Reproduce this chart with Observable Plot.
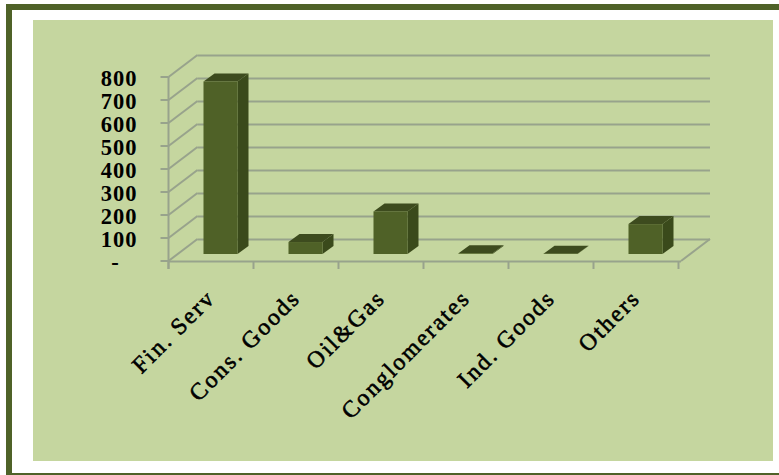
<!DOCTYPE html>
<html>
<head>
<meta charset="utf-8">
<script src="https://cdn.jsdelivr.net/npm/d3@7"></script>
<script src="https://cdn.jsdelivr.net/npm/@observablehq/plot@0.6"></script>
<style>
  html, body { margin: 0; padding: 0; background: #fff; }
  #frame { position: relative; width: 779px; height: 475px; overflow: hidden; background: #fff; }
  .edge { position: absolute; background: #4f6228; }
  #panel { position: absolute; left: 33px; top: 20px; width: 740px; height: 441px; background: #c5d69f; }
  #chart { position: absolute; left: 0; top: 0; }
  #chart svg { background: transparent; display: block; }
</style>
</head>
<body>
<div id="frame">
  <div class="edge" style="left:6px;top:4px;width:773px;height:6px"></div>
  <div class="edge" style="left:6px;top:4px;width:6px;height:471px"></div>
  <div class="edge" style="left:6px;top:473px;width:773px;height:2px"></div>
  <div id="panel"></div>
  <div id="chart"></div>
</div>
<script>
// Holdings by sector
const sectors = ["Fin. Serv", "Cons. Goods", "Oil&Gas", "Conglomerates", "Ind. Goods", "Others"];
const amounts = [750, 52, 185, 3, 1, 130];
const yTicks = [0, 100, 200, 300, 400, 500, 600, 700, 800];

const rows = sectors.map((sector, i) => ({sector, amount: amounts[i]}));

// Projected depth of the chart box and of each column, in pixels
const wall = {dx: 29, dy: -22};
const depth = {dx: 11, dy: -8};
const seat = {dx: 8.5, dy: -7};

const gridColor = "#98a38c";
const gridWidth = 2;
const fontFamily = "'Liberation Serif', serif";

function svgNode(tag, attrs) {
  const node = document.createElementNS("http://www.w3.org/2000/svg", tag);
  for (const k in attrs) node.setAttribute(k, attrs[k]);
  return node;
}

// Render hook that opens up the tracking of a text mark
const tracked = (spacing) => (index, scales, values, dimensions, context, next) => {
  const g = next(index, scales, values, dimensions, context);
  g.style.letterSpacing = spacing;
  return g;
};

// Side wall and floor lines of the box, running from the front plane to the back
function boxWalls(index, {x, y}) {
  const g = svgNode("g", {stroke: gridColor, "stroke-width": gridWidth, fill: "none"});
  const left = x.range()[0];
  const right = x.range()[1];
  for (const t of yTicks) {
    g.appendChild(svgNode("line", {x1: left, y1: y(t), x2: left + wall.dx, y2: y(t) + wall.dy}));
  }
  g.appendChild(svgNode("line", {x1: right, y1: y(0), x2: right + wall.dx, y2: y(0) + wall.dy}));
  return g;
}

// Front axis lines and their tick marks
function frontAxes(index, {x, y}) {
  const g = svgNode("g", {stroke: gridColor, "stroke-width": gridWidth});
  const left = x.range()[0];
  g.appendChild(svgNode("line", {x1: left, x2: left, y1: y(800), y2: y(0) + 8}));
  for (const t of yTicks) {
    g.appendChild(svgNode("line", {x1: left - 8, x2: left, y1: y(t), y2: y(t)}));
  }
  for (let i = 0; i <= sectors.length; ++i) {
    const e = left + i * x.step();
    g.appendChild(svgNode("line", {x1: e, x2: e, y1: y(0), y2: y(0) + 8}));
  }
  return g;
}

// Right side and top faces of each column
function columnFaces(index, {x, y}) {
  const g = svgNode("g", {});
  const w = x.bandwidth();
  for (const {sector, amount} of rows) {
    const x0 = x(sector) + seat.dx;
    const x1 = x0 + w;
    const yTop = y(amount) + seat.dy;
    const yBase = y(0) + seat.dy;
    g.appendChild(svgNode("polygon", {
      fill: "#3a4a1b",
      points: `${x1},${yBase} ${x1 + depth.dx},${yBase + depth.dy} ${x1 + depth.dx},${yTop + depth.dy} ${x1},${yTop}`
    }));
    g.appendChild(svgNode("polygon", {
      fill: "#3d4b1e",
      points: `${x0},${yTop} ${x1},${yTop} ${x1 + depth.dx},${yTop + depth.dy} ${x0 + depth.dx},${yTop + depth.dy}`
    }));
  }
  return g;
}

const plot = Plot.plot({
  width: 779,
  height: 475,
  marginLeft: 168.5,
  marginRight: 98,
  marginTop: 77,
  marginBottom: 214,
  style: {background: "transparent", fontFamily},
  x: {type: "band", domain: sectors, paddingInner: 0.6, paddingOuter: 0.3, axis: null},
  y: {domain: [0, 800], axis: null},
  marks: [
    // Back plane
    Plot.ruleY(yTicks, {stroke: gridColor, strokeWidth: gridWidth, dx: wall.dx, dy: wall.dy}),
    boxWalls,
    Plot.ruleY([0], {stroke: gridColor, strokeWidth: gridWidth}),
    frontAxes,
    // Columns
    columnFaces,
    Plot.barY(rows, {x: "sector", y: "amount", fill: "#4f6127", dx: seat.dx, dy: seat.dy}),
    // Value labels, with the zero shown as a dash set in from the right
    Plot.text(yTicks, {
      y: (d) => d,
      text: (d) => (d === 0 ? "-\u2002\u2009" : String(d)),
      frameAnchor: "left",
      textAnchor: "end",
      dx: -31.5,
      dy: 1,
      fontSize: 22.5,
      fontWeight: "bold",
      fill: "#000",
      render: tracked("1px")
    }),
    // Slanted category labels
    Plot.text(rows, {
      x: "sector",
      text: "sector",
      frameAnchor: "bottom",
      textAnchor: "end",
      rotate: -45,
      dx: 4,
      dy: 38,
      fontSize: 23.5,
      fill: "#000",
      stroke: "#000",
      strokeWidth: 0.6,
      render: tracked("2.2px")
    })
  ]
});
document.getElementById("chart").appendChild(plot);
</script>
</body>
</html>
